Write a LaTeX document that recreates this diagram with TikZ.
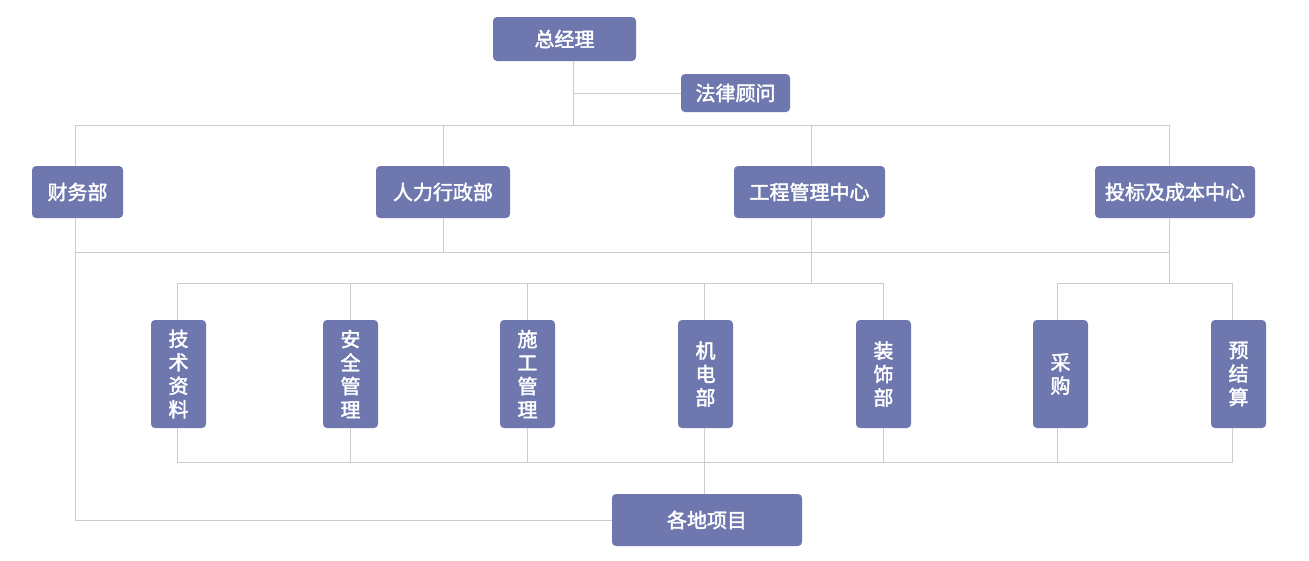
\documentclass[tikz,border=0pt]{standalone}
\usepackage{fontspec}
\usepackage{tikz}
\newfontfamily\cjk{Noto Sans CJK SC}[FakeBold=2]
\definecolor{boxblue}{HTML}{6E78AE}
\definecolor{linegray}{HTML}{CCCCCC}
\tikzset{
  unit/.style={fill=boxblue, text=white, rounded corners=4pt, inner sep=0pt,
    font=\cjk\fontsize{20}{23.5}\selectfont, align=center},
  conn/.style={draw=linegray, line width=1pt}
}
\begin{document}
\begin{tikzpicture}[x=1pt,y=-1pt]
        \useasboundingbox (0,0) rectangle (1309,560);
        % top level
        \node[unit, minimum width=143pt, minimum height=44pt] (zjl) at (564.5,39) {总经理};
        \node[unit, minimum width=109pt, minimum height=38pt] (flgw) at (735.5,93) {法律顾问};
        % departments
        \node[unit, minimum width=91pt, minimum height=52pt] (cw) at (77.5,192) {财务部};
        \node[unit, minimum width=134pt, minimum height=52pt] (rl) at (443,192) {人力行政部};
        \node[unit, minimum width=151pt, minimum height=52pt] (gc) at (809.5,192) {工程管理中心};
        \node[unit, minimum width=160pt, minimum height=52pt] (tb) at (1175,192) {投标及成本中心};
        % sections
        \node[unit, minimum width=55pt, minimum height=108pt] (js) at (178.5,374) {技\\术\\资\\料};
        \node[unit, minimum width=55pt, minimum height=108pt] (aq) at (350.5,374) {安\\全\\管\\理};
        \node[unit, minimum width=55pt, minimum height=108pt] (sg) at (527.5,374) {施\\工\\管\\理};
        \node[unit, minimum width=55pt, minimum height=108pt] (jd) at (705.5,374) {机\\电\\部};
        \node[unit, minimum width=55pt, minimum height=108pt] (zs) at (883.5,374) {装\\饰\\部};
        \node[unit, minimum width=55pt, minimum height=108pt] (cg) at (1060.5,374) {采\\购};
        \node[unit, minimum width=55pt, minimum height=108pt] (yj) at (1238.5,374) {预\\结\\算};
        % projects
        \node[unit, minimum width=190pt, minimum height=52pt] (xm) at (707,520) {各地项目};

        \coordinate (busA) at (0,125);
        \coordinate (busB) at (0,252);
        \coordinate (busC) at (0,283);
        \coordinate (busD) at (0,462);
        % line positions a little off the box centres
        \coordinate (zjlx) at ([xshift=9pt]zjl.south);
        \coordinate (cwx) at ([xshift=-2.5pt]cw.south);
        \coordinate (gcx) at ([xshift=1.5pt]gc.south);
        \coordinate (tbx) at ([xshift=-6pt]tb.south);
        \coordinate (jsx) at ([xshift=-1.5pt]js.south);
        \coordinate (jdx) at ([xshift=-1pt]jd.south);
        \coordinate (cgx) at ([xshift=-3.5pt]cg.south);
        \coordinate (yjx) at ([xshift=-6.5pt]yj.south);

        % top links
        \draw[conn] (zjlx |- zjl.south) -- (zjlx |- busA);
        \draw[conn] (flgw.west) -- (flgw.west -| zjlx);
        \draw[conn] (cwx |- cw.north) |- (tbx |- busA) -- (tbx |- tb.north);
        \draw[conn] (rl.north) -- (rl.north |- busA);
        \draw[conn] (gcx |- gc.north) -- (gcx |- busA);
        % middle links
        \draw[conn] (cwx) |- (xm.west);
        \draw[conn] (cwx |- busB) -- (tbx |- busB);
        \draw[conn] (rl.south) -- (rl.south |- busB);
        \draw[conn] (gcx) -- (gcx |- busC);
        \draw[conn] (tbx) -- (tbx |- busC);
        \draw[conn] (jsx |- js.north) |- (zs.north |- busC) -- (zs.north);
        \draw[conn] (aq.north) -- (aq.north |- busC);
        \draw[conn] (sg.north) -- (sg.north |- busC);
        \draw[conn] (jdx |- jd.north) -- (jdx |- busC);
        \draw[conn] (cgx |- cg.north) |- (yjx |- busC) -- (yjx |- yj.north);
        % bottom links
        \draw[conn] (jsx) |- (yjx |- busD) -- (yjx);
        \draw[conn] (aq.south) -- (aq.south |- busD);
        \draw[conn] (sg.south) -- (sg.south |- busD);
        \draw[conn] (zs.south) -- (zs.south |- busD);
        \draw[conn] (cgx) -- (cgx |- busD);
        \draw[conn] (jdx) -- (jdx |- xm.north);
    \end{tikzpicture}
\end{document}
